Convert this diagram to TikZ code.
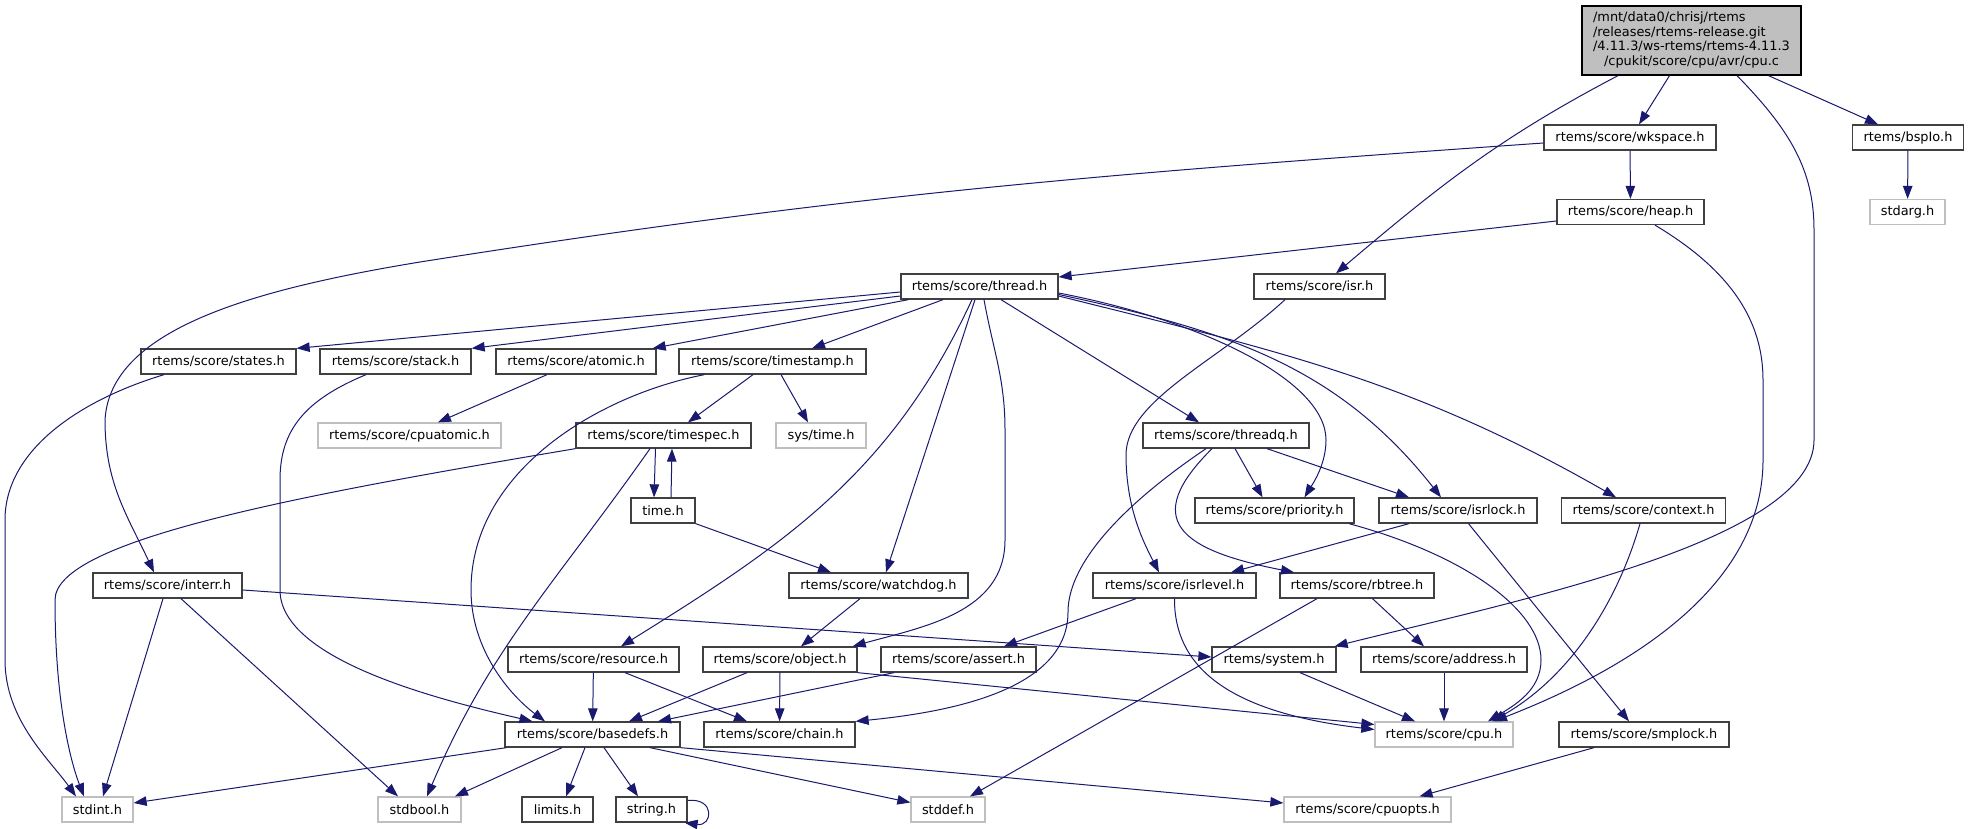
\documentclass[tikz,border=0pt]{standalone}
\usepackage{fontspec}
\setmainfont{DejaVu Sans}
\usetikzlibrary{arrows.meta}
\definecolor{doxblue}{HTML}{191970}
\definecolor{doxlight}{HTML}{BFBFBF}
\definecolor{doxdark}{HTML}{404040}
\tikzstyle{filebox} = [draw=doxdark, fill=white, line width=1.3pt, minimum height=25pt, inner sep=0pt, font=\fontsize{12.9}{14.7}\selectfont]
\tikzstyle{sysbox} = [filebox, draw=doxlight]
\tikzstyle{rootbox} = [filebox, draw=black, fill=doxlight, minimum height=69pt]
\tikzstyle{dep} = [draw=doxblue, line width=1pt, -{Triangle[length=13pt,width=9.5pt]}]

\begin{document}
\begin{tikzpicture}[x=1pt, y=-1pt]
\path[use as bounding box, fill=white] (0,0) rectangle (1969,829);

\node[rootbox, minimum width=219pt] (cpuc) at (1691.5,40.5) {\begin{tabular}{@{}l@{}}/mnt/data0/chrisj/rtems\\/releases/rtems-release.git\\/4.11.3/ws-rtems/rtems-4.11.3\\\multicolumn{1}{@{}c@{}}{/cpukit/score/cpu/avr/cpu.c}\end{tabular}};

\node[filebox, minimum width=172pt] (wkspace) at (1630,137.5) {rtems/score/wkspace.h};
\node[filebox, minimum width=111pt] (bspio) at (1908,137.5) {rtems/bspIo.h};
\node[filebox, minimum width=147pt] (heap) at (1630.5,212) {rtems/score/heap.h};
\node[sysbox, minimum width=75pt] (stdarg) at (1907.5,212) {stdarg.h};
\node[filebox, minimum width=157pt] (thread) at (979.5,286.5) {rtems/score/thread.h};
\node[filebox, minimum width=131pt] (isr) at (1319.5,286.5) {rtems/score/isr.h};
\node[filebox, minimum width=155pt] (states) at (218.5,361.5) {rtems/score/states.h};
\node[filebox, minimum width=151pt] (stack) at (395.5,361.5) {rtems/score/stack.h};
\node[filebox, minimum width=160pt] (atomic) at (576,361.5) {rtems/score/atomic.h};
\node[filebox, minimum width=187pt] (timestamp) at (772.5,361.5) {rtems/score/timestamp.h};
\node[sysbox, minimum width=183pt] (cpuatomic) at (409.5,435.5) {rtems/score/cpuatomic.h};
\node[filebox, minimum width=175pt] (timespec) at (663.5,435.5) {rtems/score/timespec.h};
\node[sysbox, minimum width=90pt] (systime) at (821,435.5) {sys/time.h};
\node[filebox, minimum width=166pt] (threadq) at (1226,435.5) {rtems/score/threadq.h};
\node[filebox, minimum width=64pt] (time) at (663,510.5) {time.h};
\node[filebox, minimum width=159pt] (priority) at (1274.5,510.5) {rtems/score/priority.h};
\node[filebox, minimum width=158pt] (isrlock) at (1458,510.5) {rtems/score/isrlock.h};
\node[filebox, minimum width=164pt] (context) at (1643.5,510.5) {rtems/score/context.h};
\node[filebox, minimum width=149pt] (interr) at (167.5,585.5) {rtems/score/interr.h};
\node[filebox, minimum width=179pt] (watchdog) at (878.5,585.5) {rtems/score/watchdog.h};
\node[filebox, minimum width=163pt] (isrlevel) at (1174.5,585.5) {rtems/score/isrlevel.h};
\node[filebox, minimum width=154pt] (rbtree) at (1357,585.5) {rtems/score/rbtree.h};
\node[filebox, minimum width=171pt] (resource) at (593.5,659.5) {rtems/score/resource.h};
\node[filebox, minimum width=154pt] (object) at (780,659.5) {rtems/score/object.h};
\node[filebox, minimum width=155pt] (assert) at (958.5,659.5) {rtems/score/assert.h};
\node[filebox, minimum width=124pt] (system) at (1274,659.5) {rtems/system.h};
\node[filebox, minimum width=166pt] (address) at (1444,659.5) {rtems/score/address.h};
\node[filebox, minimum width=175pt] (basedefs) at (592.5,734.5) {rtems/score/basedefs.h};
\node[filebox, minimum width=151pt] (chain) at (779.5,734.5) {rtems/score/chain.h};
\node[sysbox, minimum width=138pt] (cpuh) at (1444,734.5) {rtems/score/cpu.h};
\node[filebox, minimum width=170pt] (smplock) at (1644,734.5) {rtems/score/smplock.h};
\node[sysbox, minimum width=71pt] (stdint) at (97.5,809.5) {stdint.h};
\node[sysbox, minimum width=83pt] (stdbool) at (419.5,809.5) {stdbool.h};
\node[filebox, minimum width=71pt] (limits) at (557.5,809.5) {limits.h};
\node[filebox, minimum width=71pt] (string) at (651.5,809.5) {string.h};
\node[sysbox, minimum width=74pt] (stddef) at (948,809.5) {stddef.h};
\node[sysbox, minimum width=167pt] (cpuopts) at (1367.5,809.5) {rtems/score/cpuopts.h};

\draw[dep] ([xshift=-22pt]cpuc.south) -- ([xshift=9pt]wkspace.north);
\draw[dep] ([xshift=-73.5pt]cpuc.south) .. controls (1499,138) and (1439,186) .. ([xshift=16.5pt]isr.north);
\draw[dep] ([xshift=45.5pt]cpuc.south) .. controls (1790,130) and (1814,170) .. (1814,230) -- (1814,440) .. controls (1814,540) and (1520,600) .. ([xshift=-2pt]system.north east);
\draw[dep] ([xshift=77pt]cpuc.south) -- ([xshift=-30pt]bspio.north);
\draw[dep] (wkspace) -- (heap);
\draw[dep] ([yshift=-5.5pt]wkspace.west) .. controls (1103,174) and (857,193) .. (420,262) .. controls (250,290) and (110,330) .. (105,420) .. controls (105,483) and (127,515) .. ([xshift=-13.5pt]interr.north);
\draw[dep] ([yshift=-9pt]heap.west) -- ([yshift=9.5pt]thread.east);
\draw[dep] ([xshift=24.5pt]heap.south) .. controls (1730,270) and (1763,320) .. (1763,380) -- (1763,460) .. controls (1763,600) and (1600,680) .. ([xshift=50pt]cpuh.north);
\draw[dep] (bspio) -- (stdarg);

\draw[dep] ([yshift=-5.5pt]thread.west) -- (states.north east);
\draw[dep] ([yshift=-9.5pt]thread.west) -- (stack.north east);
\draw[dep] ([xshift=8pt]thread.south west) -- ([xshift=-4pt]atomic.north east);
\draw[dep] ([xshift=-36.5pt]thread.south) -- ([xshift=39.5pt]timestamp.north);
\draw[dep] ([xshift=-7.5pt]thread.south) .. controls (891,474) and (784,545) .. ([xshift=27.5pt]resource.north);
\draw[dep] ([xshift=-4.5pt]thread.south) -- ([xshift=7.5pt]watchdog.north);
\draw[dep] ([xshift=4.5pt]thread.south) .. controls (993,350) and (1005,378) .. (1005,430) -- (1005,540) .. controls (1005,613) and (922,627) .. ([xshift=-5pt]object.north east);
\draw[dep] ([xshift=21.5pt]thread.south) -- ([xshift=-27pt]threadq.north);
\draw[dep] ([yshift=-6.5pt]thread.east) .. controls (1200,320) and (1326,380) .. (1326,440) .. controls (1326,465) and (1312,485) .. ([xshift=30pt]priority.north);
\draw[dep] ([yshift=-8pt]thread.east) .. controls (1224,330) and (1336,364) .. ([xshift=-17pt]isrlock.north);
\draw[dep] ([yshift=-9.5pt]thread.east) .. controls (1283,352) and (1415,382) .. ([xshift=-27.5pt]context.north);
\draw[dep] ([xshift=-34.5pt]isr.south) .. controls (1220,360) and (1126,400) .. (1126,455) .. controls (1126,510) and (1145,545) .. ([xshift=-15.5pt]isrlevel.north);

\draw[dep] ([xshift=-54.5pt]states.south) .. controls (80,400) and (5,450) .. (5,520) -- (5,660) .. controls (5,720) and (50,760) .. ([xshift=-21.5pt]stdint.north);
\draw[dep] ([xshift=-29.5pt]stack.south) .. controls (305,400) and (280,430) .. (280,480) -- (280,590) .. controls (280,660) and (440,700) .. ([xshift=-60pt]basedefs.north);
\draw[dep] ([xshift=-29pt]atomic.south) -- ([xshift=28.5pt]cpuatomic.north);
\draw[dep] ([xshift=-19.5pt]timestamp.south) -- ([xshift=24.5pt]timespec.north);
\draw[dep] ([xshift=8.5pt]timestamp.south) -- ([xshift=-13pt]systime.north);
\draw[dep] ([xshift=26pt]timestamp.south west) .. controls (600,395) and (471,470) .. (471,590) .. controls (471,650) and (510,695) .. ([xshift=-47.5pt]basedefs.north);

\draw[dep] (timespec.south west) .. controls (300,495) and (55,540) .. (55,600) .. controls (55,700) and (70,760) .. ([xshift=-13.5pt]stdint.north);
\draw[dep] ([xshift=-13.5pt]timespec.south) .. controls (557,581) and (490,648) .. ([xshift=7.5pt]stdbool.north);
\draw[dep] ([xshift=-8pt]timespec.south) -- ([xshift=-9pt]time.north);
\draw[dep] ([xshift=8pt]time.north) -- ([xshift=8.5pt]timespec.south);
\draw[dep] (time.south east) -- ([xshift=-47.5pt]watchdog.north);

\draw[dep] ([xshift=-4.5pt]interr.south) -- ([xshift=5.5pt]stdint.north);
\draw[dep] ([xshift=13.5pt]interr.south) -- ([xshift=-21.5pt]stdbool.north);
\draw[dep] ([yshift=-4.5pt]interr.east) -- ([yshift=2.5pt]system.west);
\draw[dep] (resource) -- (basedefs);
\draw[dep] ([xshift=31.5pt]resource.south) -- ([xshift=-32.5pt]chain.north);
\draw[dep] ([xshift=-18.5pt]watchdog.south) -- ([xshift=21pt]object.north);
\draw[dep] ([xshift=-33pt]object.south) -- ([xshift=36.5pt]basedefs.north);
\draw[dep] (object) -- (chain);
\draw[dep] (object.south east) -- ([yshift=10pt]cpuh.west);
\draw[dep] ([xshift=-64.5pt]assert.south) -- ([xshift=65.5pt]basedefs.north);
\draw[dep] ([xshift=-38.5pt]isrlevel.south) -- ([xshift=45.5pt]assert.north);
\draw[dep] (isrlevel.south) .. controls (1174,665) and (1225,712) .. ([yshift=5pt]cpuh.west);

\draw[dep] ([xshift=9pt]threadq.south) -- ([xshift=-12pt]priority.north);
\draw[dep] ([xshift=41pt]threadq.south) -- ([xshift=-49pt]isrlock.north);
\draw[dep] ([xshift=-14pt]threadq.south) .. controls (1140,520) and (1180,550) .. ([xshift=-63pt]rbtree.north);
\draw[dep] ([xshift=-20pt]threadq.south) .. controls (1130,500) and (1068,560) .. (1068,612) .. controls (1068,690) and (950,712) .. (chain.north east);
\draw[dep] ([xshift=-49pt]isrlock.south) -- ([xshift=56.5pt]isrlevel.north);
\draw[dep] ([xshift=10.5pt]isrlock.south) -- ([xshift=-15pt]smplock.north);
\draw[dep] ([xshift=74.5pt]priority.south) .. controls (1465,555) and (1541,610) .. (1541,660) .. controls (1541,690) and (1515,705) .. ([xshift=44pt]cpuh.north);
\draw[dep] ([xshift=-3.5pt]context.south) .. controls (1615,610) and (1565,680) .. ([xshift=48pt]cpuh.north);
\draw[dep] ([xshift=15.5pt]rbtree.south) -- ([xshift=-20pt]address.north);
\draw[dep] ([xshift=-40pt]rbtree.south) -- ([xshift=22pt]stddef.north);
\draw[dep] (address) -- (cpuh);
\draw[dep] ([xshift=26pt]system.south) -- ([xshift=-29pt]cpuh.north);
\draw[dep] ([xshift=-50pt]smplock.south) -- ([xshift=52pt]cpuopts.north);

\draw[dep] ([xshift=2pt]basedefs.south west) -- ([yshift=6.5pt]stdint.east);
\draw[dep] ([xshift=-30.5pt]basedefs.south) -- ([xshift=35.5pt]stdbool.north);
\draw[dep] ([xshift=-7.5pt]basedefs.south) -- ([xshift=8.5pt]limits.north);
\draw[dep] ([xshift=11.5pt]basedefs.south) -- ([xshift=-13.5pt]string.north);
\draw[dep] ([xshift=57.5pt]basedefs.south) -- ([yshift=7pt]stddef.west);
\draw[dep] (basedefs.south east) -- ([yshift=6.5pt]cpuopts.west);
\draw[dep] ([yshift=9pt]string.east) .. controls +(28,-3) and +(28,4) .. ([xshift=-3pt]string.south east);
\end{tikzpicture}
\end{document}
